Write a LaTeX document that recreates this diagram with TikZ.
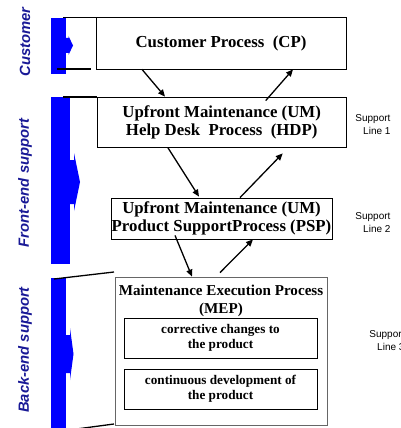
\documentclass[tikz,border=0pt]{standalone}
\usepackage{fontspec}
\setmainfont{Liberation Serif}
\setsansfont{Liberation Sans}
\usepackage{tikz}
\usetikzlibrary{arrows.meta}
\definecolor{lanetext}{RGB}{25,25,150}
\def\procfont{\fontsize{16.8}{18}\selectfont\bfseries}
\def\execfont{\fontsize{15.1}{18}\selectfont\bfseries}
\def\taskfont{\fontsize{13.2}{15}\selectfont\bfseries}
\tikzset{
	procbox/.style={draw=black, line width=0.8pt, inner sep=0pt, align=center, font=\procfont},
	taskbox/.style={draw=black, line width=0.8pt, inner sep=0pt, align=center, font=\taskfont,
		minimum width=193, minimum height=40},
	flow/.style={line width=1.3pt, -{Triangle[length=7pt,width=6pt]}},
	lane/.style={rotate=90, font=\fontsize{14.8}{16}\selectfont\sffamily\bfseries\itshape, text=lanetext},
	supportlabel/.style={anchor=east, align=right, font=\fontsize{10}{13}\selectfont\sffamily}
}

\begin{document}
\begin{tikzpicture}[x=1pt, y=-1pt]
		%%%%% START %%%%%
		\useasboundingbox (0, 0) rectangle (400, 428);
		\clip (0, 0) rectangle (400, 428);
		
		% blue lane bars with their arrows
		\fill[blue] (51, 18) rectangle (66, 74);
		\fill[blue] (66, 38) -- (68.5, 38) -- (68.5, 36) -- (73, 45.5) -- (68.5, 55) -- (68.5, 53) -- (66, 53) -- cycle;
		\fill[blue] (51, 97) rectangle (70, 264);
		\fill[blue] (70, 160) -- (74, 160) -- (74, 153) -- (80, 182) -- (74, 211) -- (74, 204) -- (70, 204) -- cycle;
		\fill[blue] (51, 278) rectangle (66, 432);
		\fill[blue] (66, 335) -- (70, 335) -- (70, 328) -- (73.5, 354) -- (70, 380) -- (70, 373) -- (66, 373) -- cycle;
		
		\node[lane] (customer) at (25, 42) {Customer};
		\node[lane] (frontend) at (25, 183) {Front-end support};
		\node[lane] (backend) at (25, 350) {Back-end support};
		
		% lane borders
		\draw[line width=1.3pt] (63, 17.5) -- (96, 17.5);
		\draw[line width=1.3pt] (57, 69) -- (91, 69);
		\draw[line width=1.3pt] (63, 97) -- (97, 97);
		\draw[line width=1.3pt] (54, 279) -- (114, 272);
		\draw[line width=1.3pt] (54, 432) -- (114, 424);
		
		% processes
		\node[procbox, minimum width=250, minimum height=52] (cp) at (221, 43) {Customer Process~~(CP)};
		\node[procbox, minimum width=249.5, minimum height=50] (hdp) at (221.7, 122)
			{Upfront Maintenance (UM)\\Help Desk~~Process~~(HDP)};
		\node[procbox, minimum width=221, minimum height=41] (psp) at (221.5, 218.5)
			{Upfront Maintenance (UM)\\Product SupportProcess (PSP)};
		\node[draw=black!60, line width=0.8pt, minimum width=212, minimum height=148] (mep) at (221, 351) {};
		\node[align=center, font=\execfont, inner sep=0pt] (meptitle) at (221, 301)
			{Maintenance Execution Process\\(MEP)};
		\node[taskbox] (corrective) at (220.5, 338) {corrective changes to\\the product};
		\node[taskbox] (continuous) at (220.5, 389) {continuous development of\\the product};
		
		% escalation up and down
		\draw[flow] ([xshift=-79pt]cp.south) -- ([xshift=-56.7pt]hdp.north);
		\draw[flow] ([xshift=44pt, yshift=-4pt]hdp.north) -- ([xshift=72pt]cp.south);
		\draw[flow] ([xshift=-54pt]hdp.south) -- ([xshift=-22.5pt, yshift=1pt]psp.north);
		\draw[flow] ([xshift=18.5pt]psp.north) -- ([xshift=61pt, yshift=-6pt]hdp.south);
		\draw[flow] ([xshift=-46.5pt, yshift=4pt]psp.south) -- ([xshift=-29pt]mep.north);
		\draw[flow] ([xshift=-1pt, yshift=4pt]mep.north) -- ([xshift=31.5pt]psp.south);
		
		\node[supportlabel] (line1) at (394, 125) {Support\\Line 1};
		\node[supportlabel] (line2) at (394, 223) {Support\\Line 2};
		\node[supportlabel] (line3) at (408, 341) {Support\\Line 3};
		%%%%% END %%%%%
	\end{tikzpicture}
\end{document}
